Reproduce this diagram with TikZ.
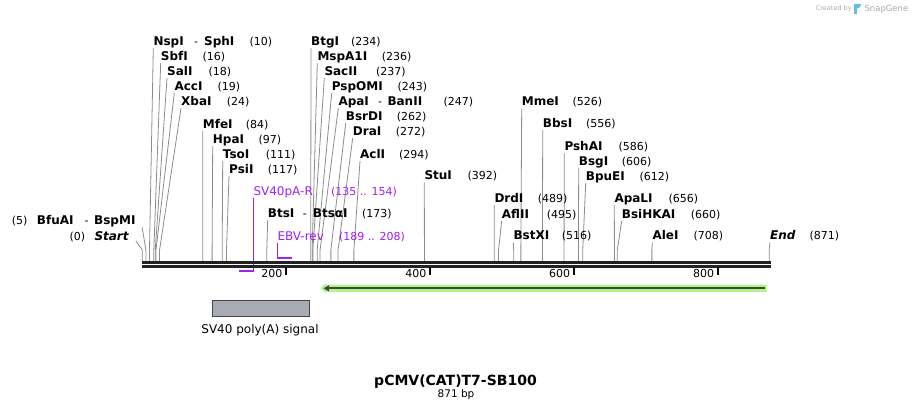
\documentclass[tikz,border=0pt]{standalone}
\usepackage{fontspec}
\setmainfont{DejaVu Sans}
\definecolor{leadgray}{RGB}{140,140,140}
\definecolor{seqcol}{RGB}{34,34,34}
\definecolor{primcol}{RGB}{160,32,240}
\definecolor{halo}{RGB}{180,242,140}
\definecolor{featdark}{RGB}{60,74,56}
\definecolor{boxfill}{RGB}{167,171,179}
\definecolor{boxdraw}{RGB}{70,70,70}
\definecolor{wmgray}{RGB}{170,170,170}
\definecolor{wmblue}{RGB}{95,190,235}
\newcommand\enzy[7]{%
  \node[enzlbl] (#1) at (#3,#4) {#2};
  \node[enznum] (#1n) at (#6,#4) {#5};
  \coordinate (#1s) at ({142.3+0.7197*#7},261);
  \draw[leader] ([yshift=-2.5pt]#1.base west) -- ([yshift=11pt]#1s) -- (#1s);
}
\begin{document}
\begin{tikzpicture}[x=1pt,y=-1pt,
  enzlbl/.style={anchor=base west,inner sep=0pt,font=\fontsize{12}{14}\selectfont\bfseries},
  enznum/.style={anchor=base west,inner sep=0pt,font=\fontsize{11}{13}\selectfont},
  primlbl/.style={anchor=base west,inner sep=0pt,text=primcol,font=\fontsize{12}{14}\selectfont},
  primnum/.style={anchor=base west,inner sep=0pt,text=primcol,font=\fontsize{11}{13}\selectfont},
  leader/.style={draw=leadgray,line width=0.8pt},
  primline/.style={draw=primcol,line width=1pt},
  primbar/.style={draw=primcol,line width=2pt},
  ticklbl/.style={anchor=base east,inner sep=0pt,font=\fontsize{11}{13}\selectfont},
  tickmark/.style={draw=black,line width=2pt}]
\useasboundingbox (0,0) rectangle (913,411);
% watermark
\node[anchor=base west,inner sep=0pt,text=wmgray,font=\fontsize{6.5}{8}\selectfont] (wm1) at (815.7,11) {Created by};
\fill[wmblue] (854,4) rectangle (857,14);
\fill[wmblue] (857,4) -- (861,4) .. controls (861.5,7) and (859,8.5) .. (857,8.5) -- cycle;
\node[anchor=base west,inner sep=0pt,text=wmgray,font=\fontsize{8.5}{10}\selectfont] (wm2) at (864.3,11.5) {SnapGene};
% enzymes, left group
\enzy{nspi}{NspI}{153.3}{45.7}{(10)}{249.3}{10}
\node[enznum] (nspid) at (194,45.7) {-};
\node[enzlbl] (sphi) at (204,45.7) {SphI};
\enzy{sbfi}{SbfI}{160.7}{60.7}{(16)}{202.3}{16}
\enzy{sali}{SalI}{167}{75.7}{(18)}{208.3}{18}
\enzy{acci}{AccI}{174.3}{90.7}{(19)}{217.3}{19}
\enzy{xbai}{XbaI}{181}{105.7}{(24)}{226.7}{24}
\enzy{mfei}{MfeI}{202.7}{128.3}{(84)}{245.7}{84}
\enzy{hpai}{HpaI}{212.7}{143.3}{(97)}{258.3}{97}
\enzy{tsoi}{TsoI}{222.7}{158.3}{(111)}{265.7}{111}
\enzy{psii}{PsiI}{229}{173.3}{(117)}{267.7}{117}
% middle group
\enzy{btgi}{BtgI}{311}{45.7}{(234)}{351}{234}
\enzy{mspa}{MspA1I}{317.3}{60.7}{(236)}{381.7}{236}
\enzy{sacii}{SacII}{324.3}{75.7}{(237)}{376}{237}
\enzy{pspomi}{PspOMI}{331.7}{90.7}{(243)}{397.3}{243}
\enzy{apai}{ApaI}{338.3}{105.7}{(247)}{443.3}{247}
\node[enznum] (apaid) at (378,105.7) {-};
\node[enzlbl] (banii) at (387.3,105.7) {BanII};
\enzy{bsrdi}{BsrDI}{345.7}{120.7}{(262)}{396.7}{262}
\enzy{drai}{DraI}{352.7}{135.7}{(272)}{395.7}{272}
\enzy{acli}{AclI}{360}{158.7}{(294)}{399}{294}
\enzy{stui}{StuI}{424.3}{180}{(392)}{467.3}{392}
\enzy{btsi}{BtsI}{267.7}{217.7}{(173)}{362}{173}
\node[enznum] (btsid) at (302.7,217.7) {-};
\node[enzlbl] (btsai) at (312.7,217.7) {BtsαI};
% right group
\enzy{mmei}{MmeI}{521.7}{106}{(526)}{572.3}{526}
\enzy{bbsi}{BbsI}{542.7}{127.3}{(556)}{586}{556}
\enzy{pshai}{PshAI}{564.3}{151}{(586)}{618.3}{586}
\enzy{bsgi}{BsgI}{578.7}{165.3}{(606)}{621.7}{606}
\enzy{bpuei}{BpuEI}{585.7}{180.7}{(612)}{639.3}{612}
\enzy{drdi}{DrdI}{494.3}{202.7}{(489)}{537.7}{489}
\enzy{aflii}{AflII}{501.7}{218.3}{(495)}{546.7}{495}
\enzy{bstxi}{BstXI}{513.3}{240}{(516)}{561.7}{516}
\enzy{apali}{ApaLI}{614.3}{202.7}{(656)}{668.3}{656}
\enzy{bsihkai}{BsiHKAI}{621.7}{218.3}{(660)}{690.7}{660}
\enzy{alei}{AleI}{652.3}{240}{(708)}{693.3}{708}
\enzy{endl}{\itshape End}{770}{240}{(871)}{809.3}{871}
% left-side labels
\node[enznum] (bfun) at (11.7,225) {(5)};
\node[enzlbl] (bfuai) at (36.7,225) {BfuAI};
\node[enznum] (bfud) at (84.3,225) {-};
\node[enzlbl] (bspmi) at (94,225) {BspMI};
\coordinate (bfus) at ({142.3+0.7197*5},261);
\draw[leader] ([xshift=6.5pt,yshift=-2.5pt]bspmi.base east) -- ([yshift=11pt]bfus) -- (bfus);
\node[enznum] (startn) at (69.3,240.3) {(0)};
\node[enzlbl] (start) at (94.3,240.3) {\itshape Start};
\coordinate (starts) at (142.3,261);
\draw[leader] ([xshift=7pt,yshift=-0.5pt]start.base east) -- ([yshift=11pt]starts) -- (starts);
% primers
\node[primlbl] (sv40r) at (253.3,196) {SV40pA-R};
\node[primnum] (sv40rn) at (331,196) {(135 .. 154)};
\coordinate (sv40ra) at ({142.3+0.7197*135},270.6);
\coordinate (sv40rb) at ({142.3+0.7197*154},270.6);
\draw[primline] ([yshift=-2.5pt]sv40r.base west) -- (sv40r.base west |- sv40rb);
\draw[primbar] (sv40ra) -- ([xshift=0.5pt]sv40r.base west |- sv40rb);
\node[primlbl] (ebv) at (277.3,241) {EBV-rev};
\node[primnum] (ebvn) at (339,241) {(189 .. 208)};
\coordinate (ebva) at ({142.3+0.7197*189},257.7);
\coordinate (ebvb) at ({142.3+0.7197*208},257.7);
\draw[primline] ([yshift=-2.5pt]ebv.base west) -- (ebv.base west |- ebva);
\draw[primbar] ([xshift=-0.5pt]ebv.base west |- ebva) -- (ebvb);
% sequence line
\draw[seqcol,line width=3pt] (142.3,262.2) -- (770.5,262.2);
\draw[seqcol,line width=2.7pt] (142.3,266.3) -- (770.5,266.3);
% ticks
\foreach \p in {200,400,600,800}{
  \draw[tickmark] ({142.3+0.7197*\p},267) -- ({142.3+0.7197*\p},275);
  \node[ticklbl] (t\p) at ({142.3+0.7197*\p-3.7},277.7) {\p};
}
% feature arrow
\fill[halo] (320.5,288.3) -- (326,283.5) -- (326,284.6) -- (766.5,284.6) -- (766.5,292) -- (326,292) -- (326,293.1) -- cycle;
\draw[featdark,line width=2.2pt] (327,288.3) -- (764.5,288.3);
\fill[featdark] (323.5,288.3) -- (329,285.2) -- (329,291.4) -- cycle;
% SV40 poly(A) signal box
\node[draw=boxdraw,fill=boxfill,line width=0.9pt,minimum width=97.4pt,minimum height=16.3pt,inner sep=0pt] (sv40box) at (261,308.15) {};
\node[anchor=base,inner sep=0pt,font=\fontsize{12}{14}\selectfont] (sv40lbl) at (260,333.3) {SV40 poly(A) signal};
% title
\node[anchor=base,inner sep=0pt,font=\fontsize{14}{16}\selectfont\bfseries] (title) at (455.5,386) {pCMV(CAT)T7-SB100};
\node[anchor=base,inner sep=0pt,font=\fontsize{10.5}{12}\selectfont] (bp) at (456,397.3) {871 bp};
\end{tikzpicture}
\end{document}
